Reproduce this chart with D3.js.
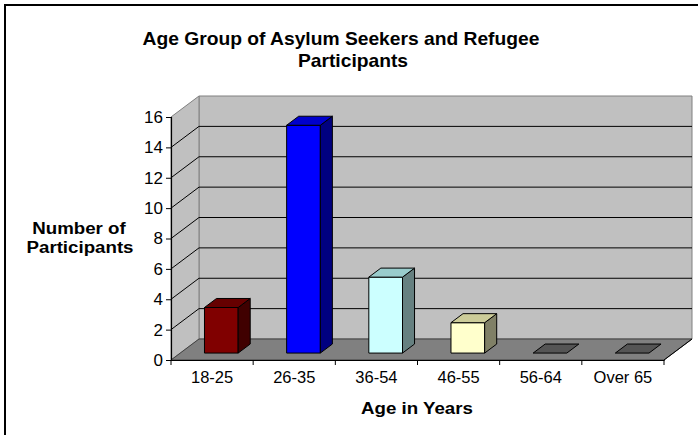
<!DOCTYPE html>
<html>
<head>
<meta charset="utf-8">
<script src="https://cdn.jsdelivr.net/npm/d3@7"></script>
<style>
  body { margin: 0; background: #fff; }
  text { font-family: "Liberation Sans", Arial, sans-serif; }
</style>
</head>
<body>
<svg id="chart" width="698" height="435"></svg>
<script>
const categories = ["18-25", "26-35", "36-54", "46-55", "56-64", "Over 65"];
const participants = [3, 15, 5, 2, 0, 0];
const yTicks = [0, 2, 4, 6, 8, 10, 12, 14, 16];

// face colours per bar: front, top, side
const barColors = [
    ["#800000", "#660000", "#400000"],
    ["#0000FF", "#0000CC", "#000080"],
    ["#CCFFFF", "#99CCCC", "#668080"],
    ["#FFFFCC", "#CCCC99", "#808066"],
    ["#555555", "#555555", "#555555"],
    ["#555555", "#555555", "#555555"]
];

const svg = d3.select("#chart");

// outer frame
svg.append("rect")
    .attr("x", 5).attr("y", 5)
    .attr("width", 720).attr("height", 460)
    .attr("fill", "#fff")
    .attr("stroke", "#000")
    .attr("stroke-width", 2);

const plotLeft = 171, plotRight = 664, plotBottom = 360, plotTop = 117;
const depthX = 28, depthY = 21;

const x = d3.scaleBand().domain(categories).range([plotLeft, plotRight]);
const y = d3.scaleLinear().domain([0, 16]).range([plotBottom, plotTop]);

const pts = arr => arr.map(p => p.join(",")).join(" ");

// back wall
svg.append("polygon")
    .attr("points", pts([[plotLeft + depthX, y(16) - depthY], [plotRight + depthX, y(16) - depthY],
                         [plotRight + depthX, plotBottom - depthY], [plotLeft + depthX, plotBottom - depthY]]))
    .attr("fill", "#C0C0C0").attr("stroke", "#808080");

// side wall
svg.append("polygon")
    .attr("points", pts([[plotLeft, y(16)], [plotLeft + depthX, y(16) - depthY],
                         [plotLeft + depthX, plotBottom - depthY], [plotLeft, plotBottom]]))
    .attr("fill", "#C0C0C0").attr("stroke", "#808080");

// floor
svg.append("polygon")
    .attr("points", pts([[plotLeft, plotBottom], [plotRight, plotBottom],
                         [plotRight + depthX, plotBottom - depthY], [plotLeft + depthX, plotBottom - depthY]]))
    .attr("fill", "#808080").attr("stroke", "#404040");

// gridlines on back and side wall
yTicks.filter(v => v > 0 && v < 16).forEach(v => {
    svg.append("line")
        .attr("x1", plotLeft + depthX).attr("x2", plotRight + depthX)
        .attr("y1", y(v) - depthY).attr("y2", y(v) - depthY)
        .attr("stroke", "#000").attr("stroke-width", 1);
    svg.append("line")
        .attr("x1", plotLeft).attr("x2", plotLeft + depthX)
        .attr("y1", y(v)).attr("y2", y(v) - depthY)
        .attr("stroke", "#000").attr("stroke-width", 1);
});

// 3d bars
const d0 = 0.33, d1 = 0.76;
const barW = x.bandwidth() * 0.41;
categories.forEach((c, i) => {
    const v = participants[i];
    const x0 = x(c) + (x.bandwidth() - barW) / 2 + depthX * d0;
    const yb = plotBottom - depthY * d0;
    const yt = y(v) - depthY * d0;
    const ox = depthX * (d1 - d0), oy = depthY * (d1 - d0);
    const [front, topC, side] = barColors[i];
    const g = svg.append("g").attr("stroke", "#000").attr("stroke-width", 1).attr("stroke-linejoin", "round");
    if (v > 0) {
        g.append("polygon")
            .attr("points", pts([[x0, yb], [x0 + barW, yb], [x0 + barW, yt], [x0, yt]]))
            .attr("fill", front);
        g.append("polygon")
            .attr("points", pts([[x0 + barW, yb], [x0 + barW + ox, yb - oy], [x0 + barW + ox, yt - oy], [x0 + barW, yt]]))
            .attr("fill", side);
    }
    g.append("polygon")
        .attr("points", pts([[x0, yt], [x0 + barW, yt], [x0 + barW + ox, yt - oy], [x0 + ox, yt - oy]]))
        .attr("fill", topC);
});

// value axis
const yAxis = svg.append("g")
    .attr("transform", `translate(${plotLeft},0)`)
    .call(d3.axisLeft(y).tickValues(yTicks).tickSize(5).tickPadding(3));
yAxis.select(".domain").attr("stroke", "#000").attr("stroke-width", 1.2);
yAxis.selectAll("text").attr("font-size", 17).attr("fill", "#000")
    .style("font-family", "'Liberation Sans', Arial, sans-serif");

// category axis
const xAxis = svg.append("g")
    .attr("transform", `translate(0,${plotBottom})`)
    .call(d3.axisBottom(x).tickSize(0).tickPadding(11));
xAxis.select(".domain").attr("stroke", "#000").attr("stroke-width", 1.2);
xAxis.selectAll("text").attr("font-size", 16.5).attr("fill", "#000")
    .style("font-family", "'Liberation Sans', Arial, sans-serif");
categories.concat([null]).forEach(c => {
    const tx = c === null ? plotRight : x(c);
    xAxis.append("line")
        .attr("x1", tx).attr("x2", tx).attr("y1", 0).attr("y2", 5)
        .attr("stroke", "#000");
});

// right edge of floor
svg.append("line")
    .attr("x1", plotRight).attr("y1", plotBottom)
    .attr("x2", plotRight + depthX).attr("y2", plotBottom - depthY)
    .attr("stroke", "#000");

// titles (slightly widened like the original)
const bold = (txt, cx, cy, size) => svg.append("text")
    .attr("transform", `translate(${cx},${cy}) scale(1.1,1)`)
    .attr("text-anchor", "middle")
    .attr("font-size", size)
    .attr("font-weight", "bold")
    .text(txt);

bold("Age Group of Asylum Seekers and Refugee", 341, 45, 17.5);
bold("Participants", 353, 67, 17.5);
bold("Number of", 79, 234, 17);
bold("Participants", 80, 253, 17);
bold("Age in Years", 417, 414, 17);
</script>
</body>
</html>
